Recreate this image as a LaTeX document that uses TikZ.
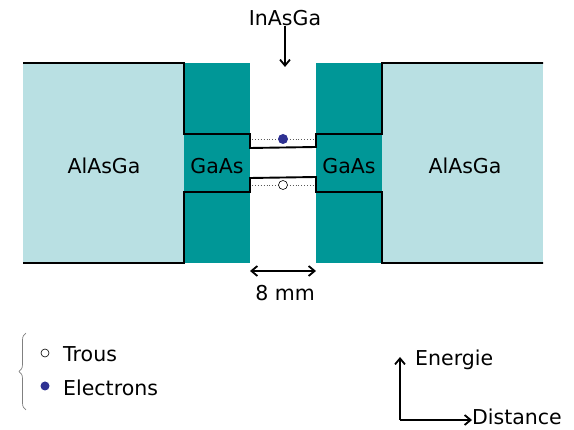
\documentclass[tikz,border=0pt]{standalone}
\usepackage{fontspec}
\setmainfont{DejaVu Sans}
\usepackage{tikz}
\usetikzlibrary{arrows.meta,positioning,decorations.pathreplacing}
\definecolor{clair}{HTML}{B9E0E3}
\definecolor{fonce}{HTML}{009797}
\definecolor{bleu}{HTML}{2E3192}
\tikzset{
  mot/.style={inner sep=0pt,font=\fontsize{20.5}{24}\selectfont},
  bande/.style={line width=1.9pt,draw=black,line join=miter},
  niveau/.style={dotted,line width=0.9pt,draw=gray!70!black},
  fleche/.style={-{Straight Barb[length=6pt,width=10pt]},line width=1.8pt},
  double/.style={{Straight Barb[length=6pt,width=10pt]}-{Straight Barb[length=6pt,width=10pt]},line width=1.8pt},
  trou/.style={circle,draw=black,fill=white,line width=0.6pt,inner sep=0pt,minimum size=9pt},
  electron/.style={circle,fill=bleu,inner sep=0pt,minimum size=10pt}
}
\begin{document}
\begin{tikzpicture}[x=1pt,y=-1pt]
\useasboundingbox (0,0) rectangle (574,430);

\fill[clair] (23,63) rectangle (184,263);
\fill[fonce] (184,63) rectangle (250,263);
\fill[fonce] (316,63) rectangle (382,263);
\fill[clair] (382,63) rectangle (543,263);

\draw[bande] (23,63) -- (184,63) -- (184,134) -- (250,134) -- (250,148)
  -- (316,147) -- (316,134) -- (382,134) -- (382,63) -- (543,63);
\draw[bande] (23,263) -- (184,263) -- (184,192) -- (250,192) -- (250,178)
  -- (316,177) -- (316,192) -- (382,192) -- (382,263) -- (543,263);

\draw[niveau] (252,139) -- (314,139);
\draw[niveau] (252,185) -- (314,185);
\node[electron] (e1) at (283,139) {};
\node[trou] (t1) at (283,185) {};

\node[mot] (alg) at (104,166) {AlAsGa};
\node[mot] (gag) at (217,166) {GaAs};
\node[mot] (gad) at (349,166) {GaAs};
\node[mot] (ald) at (465,166) {AlAsGa};

\node[mot] (inasga) at (285,18) {InAsGa};
\coordinate (puits) at (285,67);
\draw[fleche] (inasga) -- (puits);

\coordinate (gauche) at (250,271);
\coordinate (droite) at (316,271);
\draw[double] (gauche) -- (droite);
\node[mot] (largeur) at (285,293) {8 mm};

\draw[decorate,decoration={brace,amplitude=7pt},gray,line width=0.7pt]
  (26,410) -- (26,333);
\node[trou,minimum size=8pt] (lt) at (45,353) {};
\node[electron,minimum size=9pt] (le) at (45,386) {};
\node[mot,anchor=west] (trous) at (63,354) {Trous};
\node[mot,anchor=west] (electrons) at (63,388) {Electrons};

\coordinate (orig) at (400,420);
\coordinate (haut) at (400,357);
\node[mot,anchor=west] (energie) at (415,360) {Energie};
\node[mot,anchor=west] (distance) at (472,417) {Distance};
\draw[fleche] (orig) -- (haut);
\draw[fleche] (orig) -- (distance.west |- orig);
\end{tikzpicture}
\end{document}
